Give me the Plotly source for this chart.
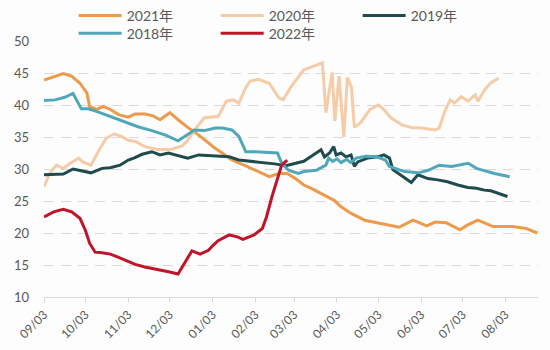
import pandas as pd
import plotly.graph_objects as go

# x positions are days counted from 09/03 (season start)
season_start = "2021-09-03"

days_2021 = [0, 8, 14, 20, 26, 31, 33, 38, 43, 48, 54, 61, 66, 73, 79, 84, 91, 97, 104, 112,
             119, 124, 129, 136, 146, 155, 163, 170, 176, 182, 188, 193, 203, 210, 215, 222, 232, 242, 250, 257,
             267, 277, 283, 291, 301, 307, 314, 325, 339, 349, 357]
vals_2021 = [43.9, 44.5, 44.9, 44.5, 43.4, 41.9, 39.8, 39.3, 39.8, 39.3, 38.5, 38.1, 38.6, 38.6, 38.3, 37.7, 38.8, 37.7, 36.5, 35.3,
             34.0, 33.2, 32.5, 31.4, 30.5, 29.6, 28.8, 29.3, 29.3, 28.5, 27.5, 27.0, 25.9, 25.1, 24.1, 23.1, 22.0, 21.5, 21.2, 20.9,
             22.0, 21.1, 21.7, 21.6, 20.5, 21.3, 22.0, 21.0, 21.0, 20.7, 20.0]

days_2020 = [0, 4, 9, 14, 19, 25, 28, 34, 40, 45, 51, 56, 61, 66, 73, 83, 92, 100, 104, 110,
             116, 126, 132, 137, 141, 146, 149, 155, 163, 170, 173, 179, 188, 195, 201.5, 204, 208.5, 210.5, 213.5, 217,
             219.5, 222.5, 224.6, 229, 236, 242, 246, 251, 259, 266, 273, 283, 286, 290, 294, 297, 302, 307, 312, 314,
             319, 323, 329]
vals_2020 = [27.2, 29.3, 30.6, 30.1, 30.9, 31.7, 31.1, 30.6, 33.0, 34.8, 35.5, 35.1, 34.5, 34.3, 33.5, 33.0, 33.1, 33.6, 34.5, 36.4,
             38.0, 38.2, 40.6, 40.8, 40.3, 42.7, 43.7, 44.0, 43.4, 41.1, 40.8, 42.9, 45.5, 46.1, 46.6, 38.8, 45.1, 37.5, 44.5, 35.0,
             44.3, 42.8, 36.5, 37.2, 39.3, 40.0, 39.3, 38.0, 36.9, 36.5, 36.4, 36.1, 36.4, 39.0, 40.8, 40.3, 41.3, 40.6, 41.6, 40.6,
             42.4, 43.4, 44.2]

days_2019 = [0, 8, 14, 21, 27, 34, 42, 48, 55, 61, 65, 71, 78, 84, 90, 97, 104, 112, 119, 125,
             134, 141, 150, 160, 167, 175, 182, 188, 197, 200.5, 203, 206.6, 209.7, 211.4, 215, 218.6, 222.2, 224.6, 227, 234,
             241.5, 246, 250, 252.5, 258.6, 265.8, 270.6, 277.8, 285, 292, 299.5, 306.7, 313, 318.6, 323.4, 329.4, 335.4]
vals_2019 = [29.1, 29.2, 29.2, 30.0, 29.7, 29.4, 30.1, 30.2, 30.6, 31.4, 31.7, 32.3, 32.7, 32.2, 32.5, 32.1, 31.7, 32.2, 32.1, 32.1,
             31.9, 31.4, 31.2, 31.0, 30.8, 30.5, 30.9, 31.2, 32.5, 33.0, 31.9, 32.5, 33.5, 32.2, 32.5, 31.9, 32.2, 30.4, 31.1, 31.7,
             31.9, 32.2, 31.7, 29.9, 29.0, 27.9, 29.1, 28.5, 28.3, 28.0, 27.5, 27.1, 27.0, 26.7, 26.6, 26.1, 25.7]

days_2018 = [0, 8, 15, 21, 27, 32, 38, 44, 51, 61, 68, 78, 88, 97, 102, 109, 116, 124, 129, 136,
             141, 146, 153, 161, 169, 172, 177, 184, 188, 197, 204, 206, 209, 212, 215, 219, 222, 226, 233, 241,
             247, 250, 254, 261, 271, 278, 286, 295, 307, 313, 316, 326, 337]
vals_2018 = [40.7, 40.8, 41.2, 41.8, 39.4, 39.4, 39.0, 38.5, 38.0, 37.2, 36.6, 36.0, 35.3, 34.4, 35.1, 36.1, 36.0, 36.4, 36.4, 36.1,
             35.1, 32.7, 32.7, 32.6, 32.5, 30.9, 29.8, 29.3, 29.6, 29.8, 30.6, 31.7, 31.2, 31.6, 31.0, 31.5, 31.0, 31.7, 32.0, 31.9,
             31.4, 30.4, 30.1, 29.6, 29.4, 29.8, 30.6, 30.4, 30.9, 30.1, 29.9, 29.3, 28.8]

days_2022 = [0, 7, 14, 20, 26, 30, 33, 37, 42, 48, 54, 61, 66, 73, 83, 91, 97, 102, 107, 113,
             119, 122, 126, 134, 140, 144, 152, 158, 161, 165, 168.5, 172, 176]
vals_2022 = [22.5, 23.3, 23.7, 23.3, 22.3, 20.4, 18.4, 17.0, 16.9, 16.7, 16.2, 15.5, 15.1, 14.7, 14.3, 13.9, 13.6, 15.5, 17.2, 16.7,
             17.3, 18.0, 18.8, 19.7, 19.4, 19.0, 19.7, 20.7, 22.5, 25.7, 28.3, 30.6, 31.4]

series_names = ["2021年", "2020年", "2019年", "2018年", "2022年"]
series_colors = ["#EE9A4D", "#F5CCA8", "#1F4B4D", "#4FA7B9", "#C0142A"]
series_legend_row = ["legend", "legend", "legend", "legend2", "legend2"]
series_days = [days_2021, days_2020, days_2019, days_2018, days_2022]
series_vals = [vals_2021, vals_2020, vals_2019, vals_2018, vals_2022]

tick_labels = ["09/03", "10/03", "11/03", "12/03", "01/03", "02/03",
               "03/03", "04/03", "05/03", "06/03", "07/03", "08/03"]
tick_dates = ["2021-09-03", "2021-10-03", "2021-11-03", "2021-12-03", "2022-01-03", "2022-02-03",
              "2022-03-03", "2022-04-03", "2022-05-03", "2022-06-03", "2022-07-03", "2022-08-03"]

start = pd.Timestamp(season_start)


def to_dates(days):
    return [start + pd.Timedelta(days=float(d)) for d in days]


fig = go.Figure()
for name, color, leg, d, v in zip(series_names, series_colors, series_legend_row, series_days, series_vals):
    fig.add_trace(go.Scatter(x=to_dates(d), y=v, mode="lines", name=name, legend=leg,
                             line=dict(color=color, width=3)))

font_family = "Lato, 'Noto Sans CJK SC', sans-serif"
legend_common = dict(orientation="h", x=0.06, xanchor="left", yanchor="top",
                     entrywidth=84, itemwidth=43, font=dict(size=14, color="#595959"),
                     bgcolor="rgba(0,0,0,0)", traceorder="normal")
fig.update_layout(
    width=550, height=350,
    margin=dict(l=44, r=12, t=41, b=53, autoexpand=False),
    paper_bgcolor="#FDFDFD", plot_bgcolor="#FDFDFD",
    font=dict(family=font_family, size=13, color="#595959"),
    legend=dict(y=1.161, **legend_common),
    legend2=dict(y=1.091, **legend_common),
)
fig.update_xaxes(
    type="date",
    range=[start, start + pd.Timedelta(days=357.5)],
    tickvals=tick_dates, ticktext=tick_labels,
    tickangle=-45, ticks="outside", ticklen=5, tickcolor="#D9D9D9",
    showline=True, linecolor="#D9D9D9", linewidth=1,
    showgrid=False, zeroline=False,
    tickfont=dict(size=12, color="#595959"),
)
fig.update_yaxes(
    range=[10, 50], tick0=10, dtick=5,
    showgrid=True, gridcolor="#D9D9D9", griddash="10px,7px", gridwidth=1,
    zeroline=False, ticks="", ticklabelstandoff=14,
    tickfont=dict(size=13, color="#595959"),
)

fig.write_html("out.html")
